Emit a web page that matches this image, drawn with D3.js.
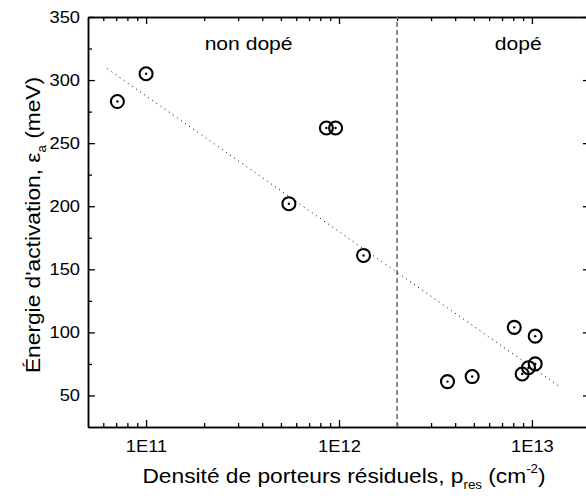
<!DOCTYPE html>
<html>
<head>
<meta charset="utf-8">
<script src="https://cdn.jsdelivr.net/npm/d3@7"></script>
<style>
	body { margin: 0; background: #fff; }
	svg { font-family: "Liberation Sans", Arial, sans-serif; }
</style>
</head>
<body>
<div id="chart"></div>
<script>
// Data
var nonDopeX = [7.1e10, 1.0e11, 5.5e11, 8.6e11, 9.6e11, 1.34e12];
var nonDopeY = [283, 305, 202, 262, 262, 161];
var dopeX = [3.65e12, 4.9e12, 8.1e12, 8.9e12, 9.6e12, 1.04e13, 1.04e13];
var dopeY = [61, 65, 104, 67, 72, 75, 97];
var fitX = [6.3e10, 1.42e13];
var fitY = [309, 56];
var boundaryX = 2e12;
var xMajor = [1e11, 1e12, 1e13];
var xTickLabels = ["1E11", "1E12", "1E13"];
var yMajor = [50, 100, 150, 200, 250, 300, 350];
var yMinor = [75, 125, 175, 225, 275, 325];
var regionLabels = ["non dopé", "dopé"];
var regionLabelX = [3.4e11, 8.5e12];

var width = 586, height = 500;
var margin = {top: 17, right: -4, bottom: 73, left: 88};
// the original lettering is a little wider than Liberation Sans
var stretch = 1.11;

var svg = d3.select("#chart").append("svg")
	.attr("width", width)
	.attr("height", height);

var x = d3.scaleLog()
	.domain([5e10, 2e13])
	.range([margin.left, width - margin.right]);
var y = d3.scaleLinear()
	.domain([25, 350])
	.range([height - margin.bottom, margin.top]);

// minor ticks on the log axis: 2..9 of each decade
var xMinor = [];
[1e10, 1e11, 1e12, 1e13].forEach(function(d){
	for (var k = 2; k <= 9; k++){
		var v = k * d;
		if (v > 5e10 && v < 2e13) xMinor.push(v);
	}
});

function styleAxis(g){
	g.selectAll("path.domain").attr("stroke", "#000").attr("stroke-width", 1.5);
	g.selectAll(".tick line").attr("stroke", "#000").attr("stroke-width", 1.3);
	g.selectAll(".tick text")
		.attr("fill", "#000")
		.style("font-size", "16.5px")
		.style("font-family", "'Liberation Sans', Arial, sans-serif")
		.each(function(){
			// widen the label around its own anchor
			var t = d3.select(this);
			var tx = +t.attr("x") || 0, ty = +t.attr("y") || 0;
			t.attr("x", 0).attr("y", 0)
				.attr("transform", `translate(${tx}, ${ty}) scale(${stretch}, 1)`);
		});
}

var yB = height - margin.bottom, yT = margin.top;
var xL = margin.left, xR = width - margin.right;

// bottom axis
svg.append("g")
	.attr("transform", `translate(0, ${yB})`)
	.call(d3.axisBottom(x).tickValues(xMajor).tickFormat((d, i) => xTickLabels[i])
		.tickSizeInner(-7).tickSizeOuter(0).tickPadding(13))
	.call(styleAxis);
svg.append("g")
	.attr("transform", `translate(0, ${yB})`)
	.call(d3.axisBottom(x).tickValues(xMinor).tickFormat("").tickSizeInner(-4).tickSizeOuter(0))
	.call(styleAxis);

// top axis
svg.append("g")
	.attr("transform", `translate(0, ${yT})`)
	.call(d3.axisTop(x).tickValues(xMajor).tickFormat("").tickSizeInner(-7).tickSizeOuter(0))
	.call(styleAxis);
svg.append("g")
	.attr("transform", `translate(0, ${yT})`)
	.call(d3.axisTop(x).tickValues(xMinor).tickFormat("").tickSizeInner(-4).tickSizeOuter(0))
	.call(styleAxis);

// left axis
svg.append("g")
	.attr("transform", `translate(${xL}, 0)`)
	.call(d3.axisLeft(y).tickValues(yMajor).tickSizeInner(-7).tickSizeOuter(0).tickPadding(8))
	.call(styleAxis);
svg.append("g")
	.attr("transform", `translate(${xL}, 0)`)
	.call(d3.axisLeft(y).tickValues(yMinor).tickFormat("").tickSizeInner(-4).tickSizeOuter(0))
	.call(styleAxis);

// right axis
svg.append("g")
	.attr("transform", `translate(${xR}, 0)`)
	.call(d3.axisRight(y).tickValues(yMajor).tickFormat("").tickSizeInner(-7).tickSizeOuter(0))
	.call(styleAxis);
svg.append("g")
	.attr("transform", `translate(${xR}, 0)`)
	.call(d3.axisRight(y).tickValues(yMinor).tickFormat("").tickSizeInner(-4).tickSizeOuter(0))
	.call(styleAxis);

// boundary between undoped and doped
svg.append("line")
	.attr("x1", x(boundaryX)).attr("x2", x(boundaryX))
	.attr("y1", yB).attr("y2", yT)
	.attr("stroke", "#666")
	.attr("stroke-width", 1.5)
	.attr("stroke-dasharray", "5,3");

// fit line
svg.append("line")
	.attr("x1", x(fitX[0])).attr("y1", y(fitY[0]))
	.attr("x2", x(fitX[1])).attr("y2", y(fitY[1]))
	.attr("stroke", "#000")
	.attr("stroke-width", 1)
	.attr("stroke-dasharray", "1,4");

// points
var pts = nonDopeX.map((d, i) => ({x: d, y: nonDopeY[i]}))
	.concat(dopeX.map((d, i) => ({x: d, y: dopeY[i]})));

var pg = svg.append("g").selectAll("g")
	.data(pts)
	.enter()
	.append("g")
	.attr("transform", d => `translate(${x(d.x)}, ${y(d.y)})`);
pg.append("circle")
	.attr("r", 6.5)
	.attr("fill", "none")
	.attr("stroke", "#000")
	.attr("stroke-width", 2.1);
pg.append("circle")
	.attr("r", 1.2)
	.attr("fill", "#000");

// region labels
svg.selectAll(".region")
	.data(regionLabels)
	.enter()
	.append("text")
	.attr("class", "region")
	.attr("transform", (d, i) => `translate(${x(regionLabelX[i])}, 50) scale(${stretch}, 1)`)
	.attr("text-anchor", "middle")
	.style("font-size", "19px")
	.text(d => d);

// x title
var xt = svg.append("text")
	.attr("transform", `translate(344, 483) scale(${stretch}, 1)`)
	.attr("text-anchor", "middle")
	.style("font-size", "20.5px");
xt.append("tspan").text("Densité de porteurs résiduels, p");
xt.append("tspan").attr("dy", 6).style("font-size", "12px").text("res");
xt.append("tspan").attr("dy", -6).text(" (cm");
xt.append("tspan").attr("dy", -10).style("font-size", "12px").text("-2");
xt.append("tspan").attr("dy", 10).text(")");

// y title
var yt = svg.append("text")
	.attr("transform", `translate(40, 225) rotate(-90) scale(${stretch}, 1)`)
	.attr("text-anchor", "middle")
	.style("font-size", "20.5px");
yt.append("tspan").text("Énergie d'activation, ε");
yt.append("tspan").attr("dy", 6).style("font-size", "12px").text("a");
yt.append("tspan").attr("dy", -6).text(" (meV)");
</script>
</body>
</html>
